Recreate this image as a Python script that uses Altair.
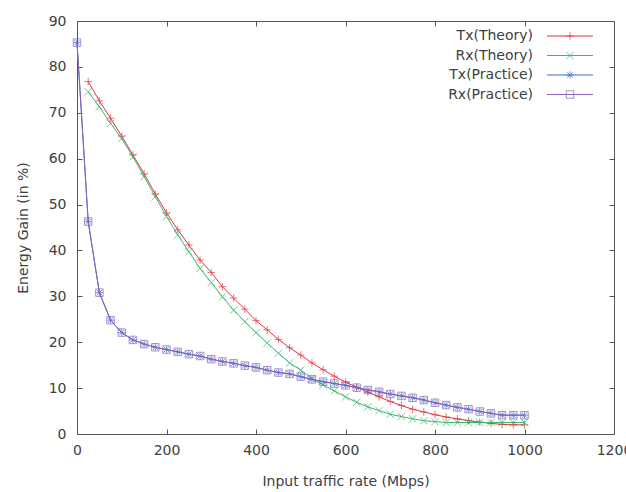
import altair as alt
import pandas as pd

# ---------------- data ----------------
series_names = ["Tx(Theory)", "Rx(Theory)", "Tx(Practice)", "Rx(Practice)"]
series_colors = ["#e2353b", "#34b86e", "#3c6cc6", "#8d62b8"]

theory_x = [25, 50, 75, 100, 125, 150, 175, 200, 225, 250, 275, 300, 325, 350,
            375, 400, 425, 450, 475, 500, 525, 550, 575, 600, 625, 650, 675, 700,
            725, 750, 775, 800, 825, 850, 875, 900, 925, 950, 975, 1000]
tx_theory = [76.8, 72.6, 68.8, 64.9, 60.8, 56.7, 52.3, 48.2, 44.5, 41.2, 37.9, 35.2,
             32.1, 29.6, 27.2, 24.7, 22.7, 20.6, 18.8, 17.2, 15.5, 14.0, 12.6, 11.3,
             10.2, 9.1, 8.1, 7.1, 6.2, 5.4, 4.8, 4.2, 3.7, 3.3, 2.9, 2.6, 2.3, 2.1,
             2.0, 2.0]
rx_theory = [74.6, 71.3, 67.7, 64.4, 60.4, 56.1, 51.7, 47.4, 43.4, 39.7, 36.1, 33.0,
             29.9, 27.0, 24.5, 22.1, 19.8, 17.6, 15.5, 13.9, 12.1, 10.7, 9.4, 8.1,
             6.9, 5.9, 5.1, 4.3, 3.8, 3.3, 2.9, 2.7, 2.5, 2.5, 2.5, 2.5, 2.5, 2.5,
             2.5, 2.5]

practice_x = [0, 25, 50, 75, 100, 125, 150, 175, 200, 225, 250, 275, 300, 325, 350,
              375, 400, 425, 450, 475, 500, 525, 550, 575, 600, 625, 650, 675, 700,
              725, 750, 775, 800, 825, 850, 875, 900, 925, 950, 975, 1000]
tx_practice = [85.3, 46.3, 30.8, 24.8, 22.1, 20.5, 19.6, 18.9, 18.4, 17.9, 17.4, 17.0,
               16.3, 15.8, 15.4, 14.9, 14.5, 13.9, 13.4, 13.1, 12.5, 11.9, 11.4, 11.0,
               10.6, 10.1, 9.6, 9.2, 8.7, 8.3, 7.9, 7.4, 6.8, 6.3, 5.8, 5.4, 4.9, 4.5,
               4.1, 4.1, 4.1]
rx_practice = [85.3, 46.3, 30.8, 24.8, 22.1, 20.5, 19.6, 18.9, 18.4, 17.9, 17.4, 17.0,
               16.3, 15.8, 15.4, 14.9, 14.5, 13.9, 13.4, 13.1, 12.5, 11.9, 11.4, 11.0,
               10.6, 10.1, 9.6, 9.2, 8.7, 8.3, 7.9, 7.4, 6.8, 6.3, 5.8, 5.4, 4.9, 4.5,
               4.1, 4.1, 4.1]

x_ticks = [0, 200, 400, 600, 800, 1000, 1200]
y_ticks = [0, 10, 20, 30, 40, 50, 60, 70, 80, 90]

marker_paths = [
    "M-1,0L1,0M0,-1L0,1",
    "M-1,-1L1,1M-1,1L1,-1",
    "M-1,0L1,0M0,-1L0,1M-0.75,-0.75L0.75,0.75M-0.75,0.75L0.75,-0.75",
    "M-1,-1L1,-1L1,1L-1,1Z",
]

# ---------------- layout ----------------
W, H = 537, 413
FONT = "DejaVu Sans"
TXT = "#404040"
FRAME = "#555555"

xs = alt.Scale(domain=[0, 1200], nice=False, zero=False)
ys = alt.Scale(domain=[0, 90], nice=False, zero=False)

frames = []
for name, xv, yv in [
    (series_names[0], theory_x, tx_theory),
    (series_names[1], theory_x, rx_theory),
    (series_names[2], practice_x, tx_practice),
    (series_names[3], practice_x, rx_practice),
]:
    frames.append(pd.DataFrame({"x": xv, "y": yv, "series": name}))
df = pd.concat(frames, ignore_index=True)

# axis with labels and titles
label_layer = alt.Chart(df).mark_point(opacity=0).encode(
    x=alt.X("x:Q", scale=xs, axis=alt.Axis(
        orient="bottom", values=x_ticks, format="d", ticks=False, tickSize=0,
        domain=False, grid=False, labelPadding=9, labelFontSize=14,
        labelFont=FONT, labelColor=TXT, title="Input traffic rate (Mbps)",
        titleFont=FONT, titleFontSize=14, titleFontWeight="normal",
        titleColor=TXT, titlePadding=17, labelFlush=False, labelOverlap=False)),
    y=alt.Y("y:Q", scale=ys, axis=alt.Axis(
        orient="left", values=y_ticks, format="d", ticks=False, tickSize=0,
        domain=False, grid=False, labelPadding=11, labelFontSize=14,
        labelFont=FONT, labelColor=TXT, title="Energy Gain (in %)",
        titleFont=FONT, titleFontSize=14, titleFontWeight="normal",
        titleColor=TXT, titlePadding=18, labelFlush=False, labelOverlap=False)),
)


def tick_axis(orient, offset, values):
    return alt.Axis(orient=orient, offset=offset, values=values, labels=False,
                    domain=False, grid=False, ticks=True, tickSize=5,
                    tickColor=FRAME, tickWidth=1, title=None)


# inward ticks at bottom & right edges
ticks_a = alt.Chart(df).mark_point(opacity=0).encode(
    x=alt.X("x:Q", scale=xs, axis=tick_axis("top", -H, x_ticks)),
    y=alt.Y("y:Q", scale=ys, axis=tick_axis("left", -W, y_ticks)),
)
# inward ticks at top & left edges
ticks_b = alt.Chart(df).mark_point(opacity=0).encode(
    x=alt.X("x:Q", scale=xs, axis=tick_axis("bottom", -H, x_ticks)),
    y=alt.Y("y:Q", scale=ys, axis=tick_axis("right", -W, y_ticks)),
)

layers = [label_layer, ticks_a, ticks_b]
for name, col, path in zip(series_names, series_colors, marker_paths):
    d = df[df["series"] == name]
    base = alt.Chart(d).encode(
        x=alt.X("x:Q", scale=xs, axis=None),
        y=alt.Y("y:Q", scale=ys, axis=None),
    )
    layers.append(base.mark_line(color=col, strokeWidth=1))
    layers.append(base.mark_point(shape=path, filled=False, color=col,
                                  size=56, strokeWidth=1))

# ---------------- legend (gnuplot style: text left, sample right) -------------
leg = pd.DataFrame({"series": series_names, "row": [0, 1, 2, 3]})
leg_y = alt.Y("row:Q", scale=alt.Scale(domain=[0, 3], range=[15, 73.5]), axis=None)
leg_color = alt.Color("series:N", scale=alt.Scale(domain=series_names,
                                                  range=series_colors), legend=None)
leg_text = alt.Chart(leg).mark_text(align="right", baseline="middle", font=FONT,
                                    fontSize=14, color=TXT).encode(
    x=alt.value(456), y=leg_y, text="series:N")
leg_rule = alt.Chart(leg).mark_rule(strokeWidth=1).encode(
    x=alt.value(470), x2=alt.value(516), y=leg_y, color=leg_color)
leg_pts = alt.Chart(leg).mark_point(filled=False, size=56, strokeWidth=1).encode(
    x=alt.value(493), y=leg_y, color=leg_color,
    shape=alt.Shape("series:N", scale=alt.Scale(domain=series_names,
                                                range=marker_paths), legend=None))
layers += [leg_rule, leg_pts, leg_text]

chart = alt.layer(*layers).resolve_scale(
    y="independent"
).resolve_axis(
    x="independent", y="independent"
).properties(
    width=W, height=H,
    autosize=alt.AutoSizeParams(type="none"),
    padding={"left": 77, "top": 21, "right": 12, "bottom": 58},
    background="white",
).configure_view(
    stroke=FRAME, strokeWidth=1
)

chart.save("out.html", embed_options={"renderer": "svg", "actions": False})
